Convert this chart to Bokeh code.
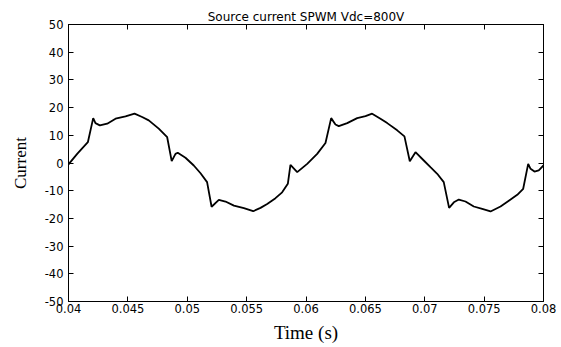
from bokeh.plotting import figure
from bokeh.models import LinearAxis, FixedTicker, Range1d
from bokeh.embed import file_html
from bokeh.resources import INLINE

# Data
time_s = [0.04000, 0.04073, 0.04163, 0.04208, 0.04227, 0.04264, 0.04326, 0.04396,
          0.04480, 0.04556, 0.04620, 0.04676, 0.04760, 0.04831, 0.04869, 0.04901,
          0.04920, 0.04985, 0.05055, 0.05112, 0.05167, 0.05205, 0.05266, 0.05322,
          0.05393, 0.05477, 0.05555, 0.05617, 0.05673, 0.05743, 0.05799, 0.05847,
          0.05869, 0.05926, 0.06010, 0.06094, 0.06164, 0.06212, 0.06248, 0.06276,
          0.06347, 0.06431, 0.06501, 0.06557, 0.06627, 0.06684, 0.06768, 0.06829,
          0.06874, 0.06922, 0.06992, 0.07048, 0.07105, 0.07160, 0.07205, 0.07245,
          0.07287, 0.07343, 0.07413, 0.07484, 0.07554, 0.07638, 0.07708, 0.07779,
          0.07829, 0.07871, 0.07891, 0.07924, 0.07960, 0.08000]
current = [-0.5, 3.3, 7.5, 16.2, 14.4, 13.6, 14.2, 16.0,
           16.8, 17.8, 16.6, 15.4, 12.4, 9.3, 0.65, 3.3,
           3.7, 1.9, -0.9, -3.7, -6.9, -15.8, -13.3, -13.9,
           -15.4, -16.3, -17.4, -16.2, -14.8, -12.7, -10.6, -7.5,
           -0.7, -3.3, -0.3, 3.3, 7.2, 16.2, 13.9, 13.3,
           14.4, 16.2, 16.9, 17.8, 16.0, 14.4, 11.8, 9.6,
           0.65, 3.9, 0.9, -1.5, -3.9, -6.9, -16.2, -14.2,
           -13.2, -13.9, -15.7, -16.6, -17.5, -15.7, -13.6, -11.5,
           -9.3, -0.3, -2.1, -3.1, -2.7, -0.9]

x_ticks = [0.04, 0.045, 0.05, 0.055, 0.06, 0.065, 0.07, 0.075, 0.08]
x_tick_labels = ["0.04", "0.045", "0.05", "0.055", "0.06", "0.065", "0.07", "0.075", "0.08"]
y_ticks = [-50, -40, -30, -20, -10, 0, 10, 20, 30, 40, 50]
y_tick_labels = ["-50", "-40", "-30", "-20", "-10", "0", "10", "20", "30", "40", "50"]

title_text = "Source current SPWM Vdc=800V"
x_label = "Time (s)"
y_label = "Current"

TICK_FONT = "DejaVu Sans"
LABEL_FONT = "Liberation Serif"

p = figure(width=561, height=347, output_backend="svg", toolbar_location=None,
           x_range=Range1d(0.04, 0.08), y_range=Range1d(-50, 50),
           x_axis_location=None, y_axis_location=None,
           min_border_left=68, min_border_right=18, min_border_top=24, min_border_bottom=46)
p.background_fill_color = "white"
p.border_fill_color = "white"
p.outline_line_color = "black"
p.outline_line_width = 1
p.xgrid.visible = False
p.ygrid.visible = False

p.title.text = title_text
p.title.align = "center"
p.title.text_font = TICK_FONT
p.title.text_font_size = "12px"
p.title.text_font_style = "normal"
p.title.text_color = "black"
p.title.standoff = 2


def style_axis(ax):
    ax.axis_line_color = "black"
    ax.axis_line_width = 1
    ax.major_tick_in = 5
    ax.major_tick_out = 0
    ax.minor_tick_in = 0
    ax.minor_tick_out = 0
    ax.major_tick_line_color = "black"
    ax.major_label_text_font = TICK_FONT
    ax.major_label_text_font_size = "11.5px"
    ax.major_label_text_color = "black"
    ax.axis_label_text_font = LABEL_FONT
    ax.axis_label_text_font_style = "normal"
    ax.axis_label_text_color = "black"


xb = LinearAxis(ticker=FixedTicker(ticks=x_ticks), axis_label=x_label)
xb.major_label_overrides = dict(zip(x_ticks, x_tick_labels))
style_axis(xb)
xb.axis_label_text_font_size = "19px"
xb.major_label_standoff = 2
xb.axis_label_standoff = 6
p.add_layout(xb, "below")

yl = LinearAxis(ticker=FixedTicker(ticks=y_ticks), axis_label=y_label)
yl.major_label_overrides = dict(zip(y_ticks, y_tick_labels))
style_axis(yl)
yl.axis_label_text_font_size = "17px"
yl.major_label_standoff = 5
yl.axis_label_standoff = 12
p.add_layout(yl, "left")

xt = LinearAxis(ticker=FixedTicker(ticks=x_ticks))
xt.major_label_overrides = {t: "" for t in x_ticks}
style_axis(xt)
xt.major_label_standoff = 0
p.add_layout(xt, "above")

yr = LinearAxis(ticker=FixedTicker(ticks=y_ticks))
yr.major_label_overrides = {t: "" for t in y_ticks}
style_axis(yr)
yr.major_label_standoff = 0
p.add_layout(yr, "right")

p.line(time_s, current, line_color="black", line_width=1.8)

open("out.html", "w").write(file_html(p, INLINE))
